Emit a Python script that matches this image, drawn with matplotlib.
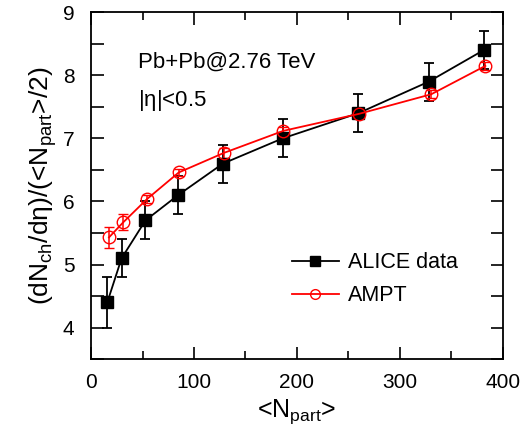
import matplotlib
matplotlib.use("Agg")
import matplotlib.pyplot as plt
from matplotlib.ticker import MultipleLocator
from matplotlib.lines import Line2D

plt.rcParams['font.family'] = ['Liberation Sans', 'DejaVu Sans']
plt.rcParams['mathtext.fontset'] = 'custom'
plt.rcParams['mathtext.rm'] = 'Liberation Sans'
plt.rcParams['mathtext.it'] = 'Liberation Sans'

# ALICE data
alice_npart = [15.8, 29.7, 52.9, 84.5, 128.0, 186.0, 259.7, 328.0, 381.4]
alice_val = [4.4, 5.1, 5.7, 6.1, 6.6, 7.0, 7.4, 7.9, 8.4]
alice_err = [0.4, 0.3, 0.3, 0.3, 0.3, 0.3, 0.3, 0.3, 0.3]

# AMPT
ampt_npart = [17.4, 31.3, 54.5, 85.2, 129.0, 186.8, 260.4, 330.4, 383.0]
ampt_val = [5.43, 5.67, 6.04, 6.46, 6.77, 7.12, 7.39, 7.70, 8.15]
ampt_err = [0.17, 0.13, 0.07, 0.05, 0.08, 0.06, 0.05, 0.06, 0.06]

fig = plt.figure(figsize=(5.24, 4.38), dpi=100)
ax = fig.add_axes([0.1737, 0.180, 0.786, 0.792])

ax.errorbar(alice_npart, alice_val, yerr=alice_err, color='black', marker='s',
            markersize=9, linewidth=1.3, capsize=3.5, elinewidth=1.3, capthick=1.3)
ax.errorbar(ampt_npart, ampt_val, yerr=ampt_err, color='red', marker='o',
            markersize=9, markerfacecolor='none', markeredgewidth=1.0,
            linewidth=1.3, capsize=3.5, elinewidth=1.1, capthick=1.1)

ax.set_xlim(0, 400)
ax.set_ylim(3.5, 9)
ax.xaxis.set_major_locator(MultipleLocator(100))
ax.xaxis.set_minor_locator(MultipleLocator(50))
ax.yaxis.set_major_locator(MultipleLocator(1))
ax.yaxis.set_minor_locator(MultipleLocator(0.5))
ax.tick_params(which='both', direction='in', top=True, right=True, width=1.2,
               labelsize=15)
ax.tick_params(axis='x', pad=10)
ax.tick_params(axis='y', pad=12)
ax.tick_params(which='major', length=9)
ax.tick_params(which='minor', length=6)
ax.tick_params(axis='y', which='minor', length=9)
for s in ax.spines.values():
    s.set_linewidth(1.3)

ax.set_xlabel(r'<N$_{\rm part}$>', fontsize=18, labelpad=4)
ax.set_ylabel(r'(dN$_{\rm ch}$/d$\eta$)/(<N$_{\rm part}$>/2)', fontsize=19, labelpad=3)

ax.text(0.115, 0.855, 'Pb+Pb@2.76 TeV', transform=ax.transAxes, fontsize=16, va='center')
ax.text(0.115, 0.745, r'|$\eta$|<0.5', transform=ax.transAxes, fontsize=16, va='center')

handles = [Line2D([], [], color='black', marker='s', markersize=7, linewidth=1.3),
           Line2D([], [], color='red', marker='o', markersize=7, markerfacecolor='none',
                  markeredgewidth=1.0, linewidth=1.3)]
ax.legend(handles, ['ALICE data', 'AMPT'], loc='center left', bbox_to_anchor=(0.44, 0.23),
          frameon=False, fontsize=15.5, handlelength=2.2, handletextpad=0.4,
          labelspacing=0.55)

fig.savefig("out.png", dpi=100)
